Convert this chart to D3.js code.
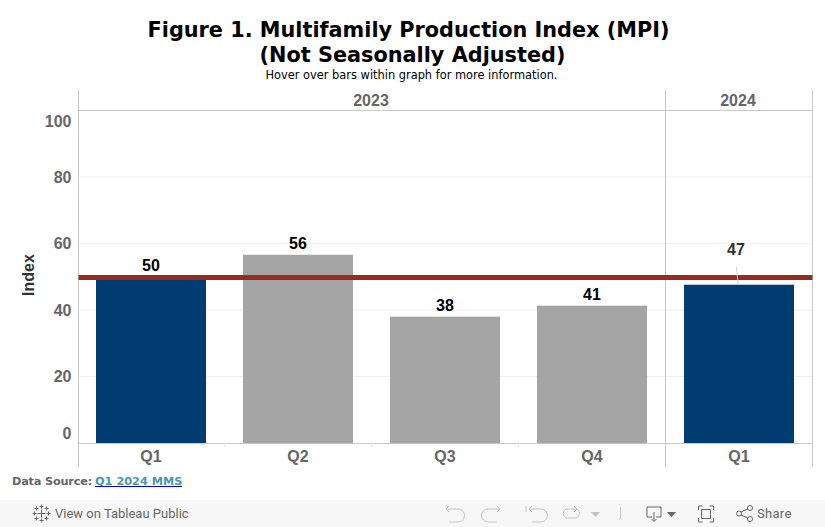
<!DOCTYPE html>
<html>
<head>
<meta charset="utf-8">
<script src="https://cdn.jsdelivr.net/npm/d3@7"></script>
<style>
	html, body { margin: 0; padding: 0; background: #fff; overflow: hidden; }
	svg { display: block; }
	text { font-family: "Liberation Sans", Arial, sans-serif; }
	.title { font-family: "DejaVu Sans", Verdana, sans-serif; font-weight: bold; }
	.tick text { font-weight: bold; fill: #666; }
</style>
</head>
<body>
<svg id="chart" width="825" height="527"></svg>
<script>
const quarters = ['2023 Q1', '2023 Q2', '2023 Q3', '2023 Q4', '2024 Q1']
const quarterLabels = ['Q1', 'Q2', 'Q3', 'Q4', 'Q1']
const values = [50, 56.6, 38, 41.3, 47.6]
const valueLabels = ['50', '56', '38', '41', '47']
const highlighted = ['2023 Q1', '2024 Q1']
const years = ['2023', '2024']
const yearSpans = [4, 1]
const yTicks = [0, 20, 40, 60, 80, 100]
const referenceValue = 49.8

const gridColor = '#f0f0f0'
const borderColor = '#c8c8c8'
const plotLeft = 78.5, plotRight = 812.5, plotTop = 110.5, plotBottom = 443

const svg = d3.select('#chart')

const x = d3.scaleBand()
	.domain(quarters)
	.range([77.5, 77.5 + 147 * 5])
	.paddingInner(37 / 147)
	.paddingOuter(18.5 / 147)

const y = d3.scaleLinear().domain([0, 100]).range([plotBottom, plotTop])

// title block
svg.append('text')
	.attr('class', 'title')
	.attr('x', 408.5).attr('y', 37)
	.attr('text-anchor', 'middle')
	.attr('font-size', 20.8)
	.text('Figure 1. Multifamily Production Index (MPI)')
svg.append('text')
	.attr('class', 'title')
	.attr('x', 412.5).attr('y', 62)
	.attr('text-anchor', 'middle')
	.attr('font-size', 20.8)
	.text('(Not Seasonally Adjusted)')
svg.append('text')
	.attr('x', 411.5).attr('y', 79)
	.attr('text-anchor', 'middle')
	.attr('font-size', 11.4)
	.style('font-family', '"DejaVu Sans", Verdana, sans-serif')
	.text('Hover over bars within graph for more information.')

// gridlines
svg.append('g')
	.selectAll('line')
	.data(yTicks.filter(d => d > 0 && d < 100))
	.join('line')
	.attr('x1', plotLeft).attr('x2', plotRight)
	.attr('y1', d => y(d)).attr('y2', d => y(d))
	.attr('stroke', gridColor)

// y axis, first and last labels are pushed inside the pane like tableau does
const yAxis = svg.append('g')
	.attr('transform', `translate(${plotLeft},0)`)
	.call(d3.axisLeft(y).tickValues(yTicks).tickSize(0).tickPadding(7))
yAxis.select('.domain').remove()
yAxis.selectAll('text').attr('font-size', 16).style('font-family', '"Liberation Sans", Arial, sans-serif')
yAxis.selectAll('.tick').filter(d => d === 0).select('text').attr('dy', '-4.5px')
yAxis.selectAll('.tick').filter(d => d === 100).select('text').attr('dy', '16px')

svg.append('text')
	.attr('transform', 'translate(34,275) rotate(-90)')
	.attr('text-anchor', 'middle')
	.attr('font-size', 16)
	.attr('font-weight', 'bold')
	.attr('fill', '#333')
	.text('Index')

// bars
svg.append('g')
	.selectAll('rect')
	.data(quarters)
	.join('rect')
	.attr('x', d => x(d))
	.attr('width', x.bandwidth())
	.attr('y', (d, i) => y(values[i]))
	.attr('height', (d, i) => plotBottom - y(values[i]))
	.attr('fill', d => highlighted.includes(d) ? '#003c71' : '#a5a5a5')

// frame lines
const yearEdges = [plotLeft, plotLeft + 146.75 * yearSpans[0], plotRight]
svg.append('g')
	.selectAll('line')
	.data(yearEdges)
	.join('line')
	.attr('x1', d => d).attr('x2', d => d)
	.attr('y1', 90).attr('y2', 467)
	.attr('stroke', borderColor)
svg.append('g')
	.selectAll('line')
	.data([plotTop, plotBottom + 0.5])
	.join('line')
	.attr('x1', plotLeft).attr('x2', plotRight)
	.attr('y1', d => d).attr('y2', d => d)
	.attr('stroke', borderColor)

// small separators under the 2023 quarters
svg.append('g')
	.selectAll('line')
	.data(quarters.slice(1, 4))
	.join('line')
	.attr('x1', d => x(d) - 18.5).attr('x2', d => x(d) - 18.5)
	.attr('y1', plotBottom).attr('y2', plotBottom + 4)
	.attr('stroke', '#e6e6e6')

// reference line
svg.append('line')
	.attr('x1', plotLeft).attr('x2', plotRight)
	.attr('y1', y(referenceValue)).attr('y2', y(referenceValue))
	.attr('stroke', '#962d22')
	.attr('stroke-width', 5)

// leader line for the moved label
svg.append('line')
	.attr('x1', 736.5).attr('x2', 738)
	.attr('y1', 267).attr('y2', 284)
	.attr('stroke', '#d0d0d0')

// value labels, the first one sits on the reference line and the last was moved up
svg.append('g')
	.selectAll('text')
	.data(quarters)
	.join('text')
	.attr('x', (d, i) => i === 4 ? 736 : x(d) + x.bandwidth() / 2)
	.attr('y', (d, i) => i === 4 ? 255 : y(values[i]) - 6)
	.attr('text-anchor', 'middle')
	.attr('font-size', 16)
	.attr('font-weight', 'bold')
	.attr('fill', (d, i) => i === 4 ? '#333' : '#000')
	.text((d, i) => valueLabels[i])

// category labels
svg.append('g')
	.selectAll('text')
	.data(quarters)
	.join('text')
	.attr('x', d => x(d) + x.bandwidth() / 2)
	.attr('y', 462)
	.attr('text-anchor', 'middle')
	.attr('font-size', 16)
	.attr('font-weight', 'bold')
	.attr('fill', '#666')
	.text((d, i) => quarterLabels[i])

// year headers
svg.append('g')
	.selectAll('text')
	.data(years)
	.join('text')
	.attr('x', (d, i) => (yearEdges[i] + yearEdges[i + 1]) / 2 - 1)
	.attr('y', 106)
	.attr('text-anchor', 'middle')
	.attr('font-size', 16)
	.attr('font-weight', 'bold')
	.attr('fill', '#666')
	.text(d => d)

// data source
const source = svg.append('text')
	.attr('x', 12).attr('y', 485)
	.attr('font-size', 11.3)
	.attr('font-weight', 'bold')
	.style('font-family', '"DejaVu Sans", Verdana, sans-serif')
	.attr('fill', '#666')
source.append('tspan').attr('letter-spacing', -0.2).text('Data Source:')
source.append('tspan').attr('x', 95).attr('fill', '#4996b2').text('Q1 2024 MMS')
svg.append('line')
	.attr('x1', 95).attr('x2', 182)
	.attr('y1', 486.5).attr('y2', 486.5)
	.attr('stroke', '#0000ee')

// toolbar
svg.append('rect')
	.attr('x', 0).attr('y', 500)
	.attr('width', 825).attr('height', 27)
	.attr('fill', '#f7f7f7')

const toolbarText = svg.append('g')
	.attr('font-size', 13)
	.attr('fill', '#666')
toolbarText.append('text').attr('x', 55).attr('y', 518).style('font-family', 'Roboto, sans-serif').text('View on Tableau Public')
toolbarText.append('text').attr('x', 757).attr('y', 518).attr('letter-spacing', 0.3).style('font-family', 'Roboto, sans-serif').text('Share')

const icons = svg.append('g').attr('fill', 'none').attr('stroke-width', 1)

// tableau logo
const logo = icons.append('g').attr('stroke', '#666').attr('transform', 'translate(41.5,513.5)')
;[[0, 0, 4], [-5, -5, 2], [5, -5, 2], [-5, 5, 2], [5, 5, 2], [0, -7, 2], [0, 7, 2], [-7, 0, 2], [7, 0, 2]].forEach(([cx, cy, r]) => {
	logo.append('path').attr('d', `M${cx - r},${cy}H${cx + r}M${cx},${cy - r}V${cy + r}`)
})

const grey = '#c4c4c4', dark = '#666'
icons.append('path').attr('stroke', grey).attr('d', 'M446,509h12a6,6 0 0 1 0,13h-9M446,509l3,-3M446,509l3,3')
icons.append('path').attr('stroke', grey).attr('d', 'M500,509h-12a6,6 0 0 0 0,13h9M500,509l-3,-3M500,509l-3,3')
icons.append('path').attr('stroke', grey).attr('d', 'M526,506v6M529,509h12a6,6 0 0 1 0,13h-9M529,509l3,-3M529,509l3,3')
icons.append('path').attr('stroke', grey).attr('d', 'M577,509h-11a5,5 0 0 0 0,9h10a5,5 0 0 0 1,-9M577,509l-3,-3M577,509l-3,3')
svg.append('path').attr('fill', grey).attr('d', 'M591,512h9l-4.5,5z')
icons.append('path').attr('stroke', grey).attr('d', 'M620.5,507v12')
icons.append('path').attr('stroke', dark).attr('d', 'M652,517h-5v-10h14v10h-5M654,512v9M651.5,519l2.5,2.5l2.5,-2.5')
svg.append('path').attr('fill', dark).attr('d', 'M667,512h9l-4.5,5z')
icons.append('path').attr('stroke', dark).attr('d', 'M698.5,510v-4h4M709.5,506h4v4M713.5,518v4h-4M702.5,522h-4v-4M701.5,509.5h9v9h-9z')
icons.append('path').attr('stroke', dark).attr('d', 'M741,512l7,-3M741,515l7,3')
icons.selectAll('circle.share')
	.data([[739, 513.5], [750, 508], [750, 519]])
	.join('circle')
	.attr('class', 'share')
	.attr('cx', d => d[0]).attr('cy', d => d[1]).attr('r', 2.5)
	.attr('stroke', dark)
</script>
</body>
</html>
